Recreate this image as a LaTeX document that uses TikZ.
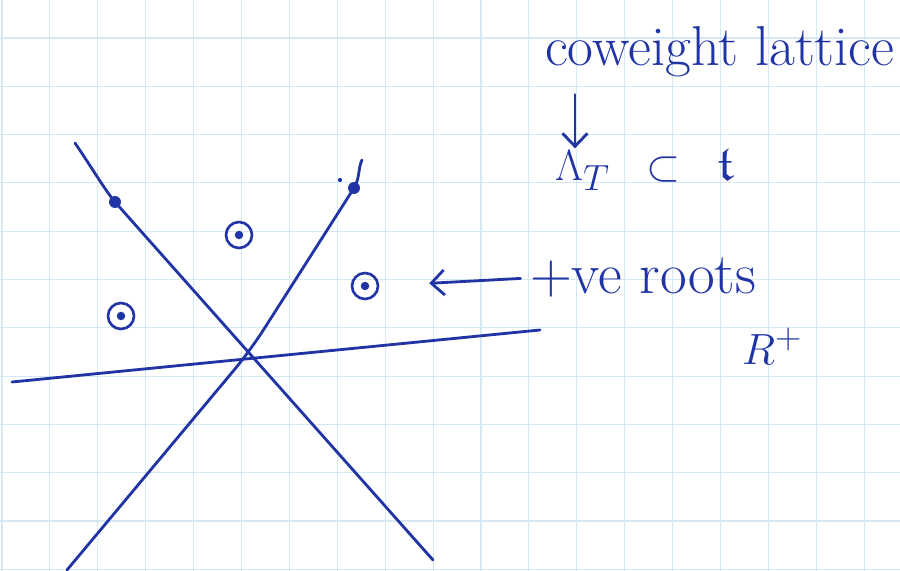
\documentclass[tikz,border=0pt]{standalone}
\usepackage{amsmath}
\usepackage{amssymb}
\usepackage{tikz}
\usetikzlibrary{arrows.meta}

\definecolor{ink}{RGB}{32,52,165}
\definecolor{paper}{RGB}{214,232,243}

\begin{document}
\begin{tikzpicture}[x=0.02cm, y=-0.02cm, >={Straight Barb[length=2.6mm, width=5mm]},
  stroke/.style={ink, line width=1.6pt, line cap=round, line join=round},
  gridline/.style={paper, line width=0.6pt},
  root/.style={draw=ink, circle, line width=1.5pt, minimum size=0.52cm, inner sep=0pt},
  rootdot/.style={fill=ink, circle, minimum size=0.17cm, inner sep=0pt},
  wall/.style={fill=ink, circle, minimum size=0.24cm, inner sep=0pt},
  label/.style={text=ink, font=\fontsize{32}{36}\selectfont, inner sep=1pt, anchor=base west}]

\useasboundingbox (0,0) rectangle (900,571);
\fill[white] (0,0) rectangle (900,571);

% --- squared paper ---
\foreach \gx in {0,...,18}
  \draw[gridline] ({2+47.9*\gx},0) -- ({2+47.9*\gx},571);
\foreach \gy in {0,...,11}
  \draw[gridline] (0,{38+48.3*\gy}) -- (900,{38+48.3*\gy});

% --- walls ---
\coordinate (dtop) at (75,143);
\coordinate (dbot) at (433,560);
\coordinate (abot) at (67,570);
\coordinate (atop) at (354,188);
\coordinate (hleft) at (12,382);
\coordinate (hright) at (540,330);

\draw[stroke] (dtop) .. controls (92,168) and (105,190) .. (115,202) -- (dbot);
\draw[stroke, rounded corners=0.5cm] (abot) -- (250,351) -- (atop);
\draw[stroke] (atop) .. controls (360,178) and (358,168) .. (362,160);
\draw[stroke] (hleft) -- (hright);

\node[wall] (w1) at (115,202) {};
\node[wall] (w2) at (354,188) {};
\fill[ink] (340,180) circle (1.2pt);

% --- circled roots ---
\node[root] (r1) at (121,316) {};
\node[root] (r2) at (239,235) {};
\node[root] (r3) at (365,286) {};
\node[rootdot] at (r1) {};
\node[rootdot] at (r2) {};
\node[rootdot] at (r3) {};

% --- labels ---
\node[label] (cw) at (543,66) {coweight lattice};
\node[label, font=\fontsize{28}{32}\selectfont] (lam) at (553,181)
  {$\Lambda_T \enspace\subset\enspace \mathfrak{t}$};
\node[label, font=\fontsize{33}{36}\selectfont] (roots) at (528,294) {+ve roots};
\node[label, font=\fontsize{30}{34}\selectfont] (rplus) at (740,364) {$R^+$};

\draw[stroke, ->] ([xshift=0.64cm, yshift=-0.3cm]cw.south west)
  -- ([xshift=0.64cm]cw.south west |- lam.north);
\draw[stroke, ->, shorten <=0.15cm, shorten >=1cm] (roots.west) -- (r3.east);

\end{tikzpicture}
\end{document}
